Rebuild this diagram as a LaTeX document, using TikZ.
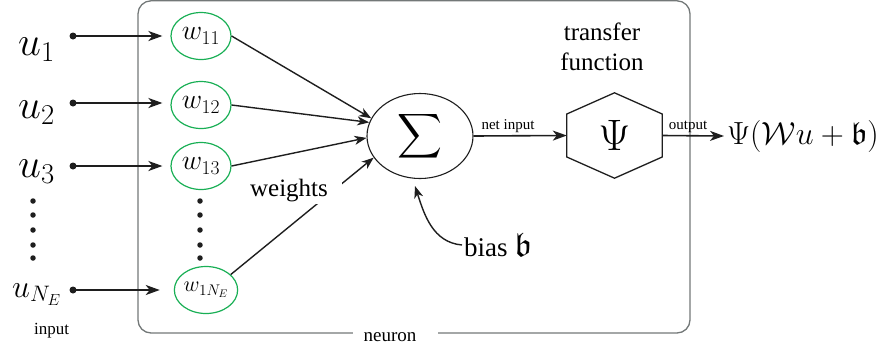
\RequirePackage{fix-cm}
\documentclass[tikz,border=0pt]{standalone}
\usepackage{amsmath,amssymb}
\usepackage{exscale}
\usepackage{graphicx}
\usepackage{fontspec}
\setmainfont{Liberation Serif}
\usetikzlibrary{arrows.meta,calc,shapes.geometric}

\definecolor{wgreen}{RGB}{25,175,85}
\definecolor{boxgray}{RGB}{115,120,120}
\definecolor{ink}{RGB}{30,30,30}

\begin{document}
\begin{tikzpicture}[x=1pt,y=-1pt,
  weightnode/.style={draw=wgreen,line width=1.2pt,ellipse,inner sep=0pt,
                     minimum width=60pt,minimum height=47pt},
  dotnode/.style={circle,fill=ink,inner sep=0pt,minimum size=7pt},
  smalldot/.style={circle,fill=ink,inner sep=0pt,minimum size=5.5pt},
  inarrow/.style={draw=ink,line width=2pt,-{Stealth[length=14pt,width=10pt,inset=4pt]}},
  warrow/.style={draw=ink,line width=1.4pt,-{Stealth[length=12pt,width=9pt,inset=3.5pt]}},
  flowarrow/.style={draw=ink,line width=1.6pt,-{Stealth[length=14pt,width=10pt,inset=4pt]}},
  inlabel/.style={anchor=base west,inner sep=0pt},
  tinylabel/.style={font=\fontsize{15}{17}\selectfont,inner sep=1pt},
]
\useasboundingbox (0,0) rectangle (884,349);

% neuron frame
\draw[boxgray,line width=1.3pt,rounded corners=13pt] (138,0.8) rectangle (690,333);
\node[fill=white,inner xsep=0pt,inner ysep=3pt,minimum width=85pt,
      font=\fontsize{19}{22}\selectfont] (neuron) at (395.5,337) {neuron\hspace*{11pt}};

% inputs
\node[inlabel,font=\fontsize{41}{44}\selectfont] (u1) at (18,55) {$u_1$};
\node[inlabel,font=\fontsize{41}{44}\selectfont] (u2) at (18,118) {$u_2$};
\node[inlabel,font=\fontsize{41}{44}\selectfont] (u3) at (18,177) {$u_3$};
\node[inlabel,font=\fontsize{32}{36}\selectfont] (uN) at (12,297) {$u_{N_E}$};
\node[font=\fontsize{17}{20}\selectfont] (inputlbl) at (51.5,331) {input};

\foreach \y [count=\i] in {201,215,230,245,258} {
  \node[smalldot] (ld\i) at (33,\y) {};
  \node[smalldot] (md\i) at (200,\y) {};
}

\node[dotnode] (in1) at (73,36) {};
\node[dotnode] (in2) at (73,103) {};
\node[dotnode] (in3) at (73,166) {};
\node[dotnode] (inN) at (73,290) {};

% weights
\node[weightnode,font=\fontsize{28}{30}\selectfont] (w11) at (201,36) {$w_{11}$};
\node[weightnode,font=\fontsize{28}{30}\selectfont] (w12) at (201,105) {$w_{12}$};
\node[weightnode,font=\fontsize{28}{30}\selectfont] (w13) at (201,166) {$w_{13}$};
\node[weightnode,font=\fontsize{22}{24}\selectfont] (w1N) at (206,290) {$w_{1N_E}$};

\draw[inarrow,shorten >=8pt] (in1.center) -- (w11);
\draw[inarrow,shorten >=8pt] (in2.center) -- (w12.west |- in2);
\draw[inarrow,shorten >=8pt] (in3.center) -- (w13);
\draw[inarrow,shorten >=14pt] (inN.center) -- (w1N);

% summation
\node[draw=ink,line width=1.1pt,ellipse,minimum width=106pt,minimum height=85pt,
      inner sep=0pt,font=\fontsize{32}{36}\selectfont] (sum) at (420,136)
  {\scalebox{1.25}{$\displaystyle\sum$}};

\draw[warrow] (w11.east) -- (sum.160);
\draw[warrow] (w12.east) -- (sum.165);
\draw[warrow] (w13.east) -- (sum.182);
\draw[warrow] (w1N.32) -- (sum.205);
\node[fill=white,inner xsep=14pt,inner ysep=1.5pt,font=\fontsize{25}{30}\selectfont]
  (wlbl) at (289,191) {weights};

% bias
\node[anchor=west,inner sep=2pt,font=\fontsize{27}{30}\selectfont] (bias) at (462,245)
  {bias {\fontsize{34}{36}\selectfont$\mathfrak{b}$}};
\coordinate (btip) at ($(sum.south)+(-5,7)$);
\draw[warrow] (bias.west) to[out=175,in=-72] (btip);

% transfer function
\node[inner sep=0pt] (psi) at (614.5,135.5) [minimum width=95pt,minimum height=85pt,
      font=\fontsize{44}{48}\selectfont] {$\Psi$};
\draw[ink,line width=1.3pt,line join=miter]
  (psi.north) -- ($(psi.east)+(0,-21.5)$) -- ($(psi.east)+(0,21.5)$) --
  (psi.south) -- ($(psi.west)+(0,21.5)$) -- ($(psi.west)+(0,-21.5)$) -- cycle;
\node[align=center,font=\fontsize{25}{30}\selectfont] (tflbl) at (602,47) {transfer\\function};

\draw[flowarrow] (sum.east) -- (psi.west);
\node[tinylabel] (netlbl) at (508,126) {net input};

% output
\node[anchor=west,inner sep=3pt,font=\fontsize{32}{36}\selectfont] (res) at (724,136)
  {$\Psi(\mathcal{W}u+\mathfrak{b})$};
\draw[flowarrow] (psi.east) -- (res.west);
\node[tinylabel] (outlbl) at (688,127) {output};
\end{tikzpicture}
\end{document}
